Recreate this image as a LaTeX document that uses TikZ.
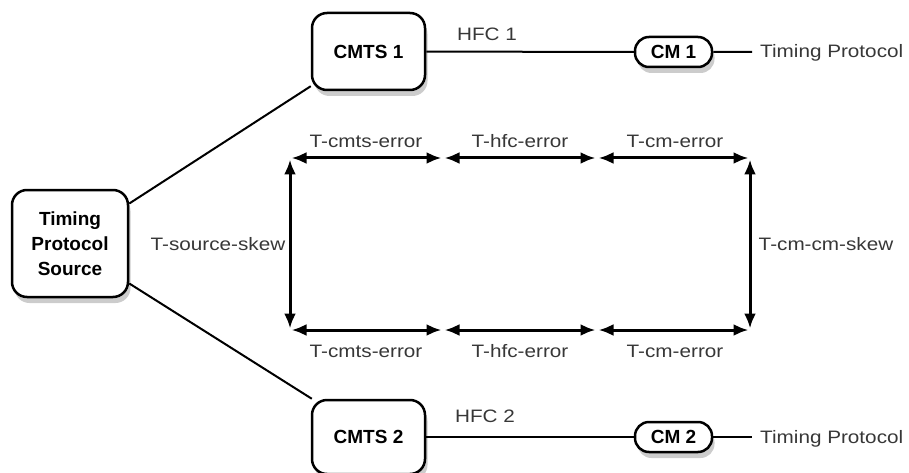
\documentclass[tikz,border=0pt]{standalone}
\usepackage{fontspec}
\setmainfont{Liberation Sans}[FakeStretch=1.15]
\newfontfamily\boxfont{Liberation Sans}
\usepackage{tikz}
\usetikzlibrary{arrows.meta,shadows}
\definecolor{labelgray}{RGB}{55,55,55}

\begin{document}
\begin{tikzpicture}[x=1pt,y=-1pt,
  box/.style={draw,line width=2.5pt,rounded corners=15pt,fill=white,align=center,
    font=\boxfont\fontsize{19}{25}\selectfont\bfseries,inner sep=0pt,
    drop shadow={shadow xshift=2.5pt,shadow yshift=-6pt,opacity=0.4}},
  pill/.style={box,rounded corners=14pt},
  wire/.style={line width=2pt},
  dim/.style={line width=3pt,{Latex[length=15pt,width=12pt]}-{Latex[length=15pt,width=12pt]},
    shorten >=1.5pt,shorten <=1.5pt},
  lbl/.style={text=labelgray,font=\fontsize{18}{22}\selectfont,anchor=base,inner sep=0pt}]
  \useasboundingbox (0,0) rectangle (909,473);
  % boxes
  \node[box,minimum width=116pt,minimum height=107pt] (src) at (70,243.5) {Timing\\Protocol\\Source};
  \node[box,minimum width=113pt,minimum height=77pt] (cmts1) at (368.5,51.5) {CMTS 1};
  \node[box,minimum width=113pt,minimum height=74pt] (cmts2) at (368.5,437) {CMTS 2};
  \node[pill,minimum width=77pt,minimum height=30pt] (cm1) at (673.5,52) {CM 1};
  \node[pill,minimum width=77pt,minimum height=30pt] (cm2) at (673.5,437) {CM 2};
  \coordinate (tp1) at (752,52);
  \coordinate (tp2) at (752,437);
  % wires
  \draw[wire] (src.34) -- (cmts1.211);
  \draw[wire] (src.-34) -- (cmts2.146);
  \draw[wire] (cmts1) -- (cm1) -- (tp1);
  \draw[wire] (cmts2) -- (cm2) -- (tp2);
  \node[lbl] (hfc1) at (487,41) {HFC 1};
  \node[lbl] (hfc2) at (485,422) {HFC 2};
  \node[lbl,anchor=base west] (tpa) at (760,58) {Timing Protocol};
  \node[lbl,anchor=base west] (tpb) at (760,443) {Timing Protocol};
  % error budget frame
  \coordinate (t0) at (290,158); \coordinate (t1) at (443,158);
  \coordinate (t2) at (597,158); \coordinate (t3) at (750,158);
  \coordinate (b0) at (290,330); \coordinate (b1) at (443,330);
  \coordinate (b2) at (597,330); \coordinate (b3) at (750,330);
  \draw[dim] (t0) -- (t1); \draw[dim] (t1) -- (t2); \draw[dim] (t2) -- (t3);
  \draw[dim] (b0) -- (b1); \draw[dim] (b1) -- (b2); \draw[dim] (b2) -- (b3);
  \draw[dim] (t0) -- (b0); \draw[dim] (t3) -- (b3);
  \node[lbl] (ue1) at (366,148) {T-cmts-error};
  \node[lbl] (ue2) at (520,148) {T-hfc-error};
  \node[lbl] (ue3) at (675,148) {T-cm-error};
  \node[lbl] (le1) at (366,357) {T-cmts-error};
  \node[lbl] (le2) at (520,357) {T-hfc-error};
  \node[lbl] (le3) at (675,357) {T-cm-error};
  \node[lbl] (skew1) at (218,250) {T-source-skew};
  \node[lbl] (skew2) at (826,250) {T-cm-cm-skew};
\end{tikzpicture}
\end{document}
